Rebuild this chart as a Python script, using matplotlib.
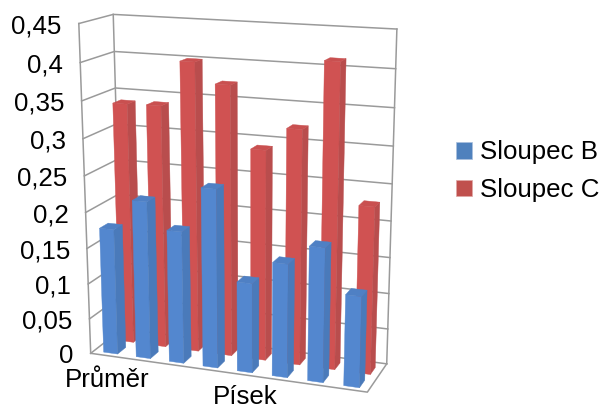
import matplotlib
matplotlib.use('Agg')
import matplotlib.pyplot as plt
import numpy as np
from matplotlib.patches import Polygon, Rectangle

plt.rcParams['font.family'] = ['Liberation Sans', 'DejaVu Sans']

# data
categories = ['Průměr', 'Písek']
sloupec_b = [0.177, 0.22, 0.184, 0.246, 0.124, 0.156, 0.183, 0.124]
sloupec_c = [0.338, 0.339, 0.40, 0.373, 0.291, 0.322, 0.412, 0.229]
y_ticks = [0, 0.05, 0.1, 0.15, 0.2, 0.25, 0.3, 0.35, 0.4, 0.45]
y_labels = ['0', '0,05', '0,1', '0,15', '0,2', '0,25', '0,3', '0,35', '0,4', '0,45']
y_max = 0.45

# perspective box: (u, v, h) -> pixel, fitted on the visible corners
corners = [((0, 0, 0), (89, 354)), ((1, 0, 0), (368, 393)), ((0, 1, 0), (124, 330)),
           ((1, 1, 0), (386, 365)), ((0, 0, 1), (80, 25)), ((0, 1, 1), (112, 15)),
           ((1, 1, 1), (397, 30))]
A = []
rhs = []
for (u, v, h), (px, py) in corners:
    A.append([u, v, h, 1, 0, 0, 0, 0, -px*u, -px*v, -px*h])
    A.append([0, 0, 0, 0, u, v, h, 1, -py*u, -py*v, -py*h])
    rhs += [px, py]
m = np.linalg.lstsq(np.array(A, float), np.array(rhs, float), rcond=None)[0]
P = np.append(m, 1).reshape(3, 4)


def proj(u, v, h):
    p = P @ np.array([u, v, h/y_max, 1.0])
    return p[0]/p[2], p[1]/p[2]


def bar3d(ax, i, val, v0, v1, shift, front, side, top):
    n = len(sloupec_b)
    u0 = (i + 0.29 + shift)/n
    u1 = (i + 0.72 + shift)/n
    ax.add_patch(Polygon([proj(u0, v0, 0), proj(u1, v0, 0), proj(u1, v0, val), proj(u0, v0, val)], fc=front, ec=front, lw=0.3))
    ax.add_patch(Polygon([proj(u1, v0, 0), proj(u1, v1, 0), proj(u1, v1, val), proj(u1, v0, val)], fc=side, ec=side, lw=0.3))
    ax.add_patch(Polygon([proj(u0, v0, val), proj(u1, v0, val), proj(u1, v1, val), proj(u0, v1, val)], fc=top, ec=top, lw=0.3))


fig = plt.figure(figsize=(6.03, 4.10), dpi=100)
ax = fig.add_axes([0, 0, 1, 1])
ax.set_xlim(0, 603)
ax.set_ylim(410, 0)
ax.axis('off')

grid_c = '#9a9a9a'

# walls, kept under the bars
for t in y_ticks:
    a, b, c = proj(0, 0, t), proj(0, 1, t), proj(1, 1, t)
    ax.plot([a[0], b[0], c[0]], [a[1], b[1], c[1]], color=grid_c, lw=1.1, zorder=0)
for u, v in [(0, 0), (0, 1), (1, 1)]:
    a, b = proj(u, v, 0), proj(u, v, y_max)
    ax.plot([a[0], b[0]], [a[1], b[1]], color=grid_c, lw=1.1, zorder=0)
# floor
a, b, c = proj(0, 0, 0), proj(1, 0, 0), proj(1, 1, 0)
ax.plot([a[0], b[0], c[0]], [a[1], b[1], c[1]], color=grid_c, lw=1.1, zorder=0)

# bars, back row first
for i in range(len(sloupec_c)-1, -1, -1):
    bar3d(ax, i, sloupec_c[i], 0.57, 0.82, 0.05, '#d05252', '#b94d4d', '#c95050')
for i in range(len(sloupec_b)-1, -1, -1):
    bar3d(ax, i, sloupec_b[i], 0.1, 0.36, 0.01, '#5387cf', '#4a7aba', '#4f80c4')

# tick labels follow the left wall
fs = 18.6
for t, lab in zip(y_ticks, y_labels):
    x, y = proj(0, 0, t)
    ax.text(x-17, y+1.5, lab, fontsize=fs, ha='right', va='center', color='black')

# category labels
ax.text(107, 380, categories[0], fontsize=fs, ha='center', va='center')
ax.text(245.5, 397, categories[1], fontsize=fs, ha='center', va='center')

# legend
ax.add_patch(Rectangle((456, 143), 16, 17, fc='#4f81bd', ec='#a9c0de', lw=0.5))
ax.add_patch(Rectangle((456, 181), 16, 16, fc='#c0504d', ec='#dfa8a6', lw=0.5))
ax.text(480, 152, 'Sloupec B', fontsize=fs, ha='left', va='center')
ax.text(480, 190, 'Sloupec C', fontsize=fs, ha='left', va='center')

fig.savefig('out.png', dpi=100)
